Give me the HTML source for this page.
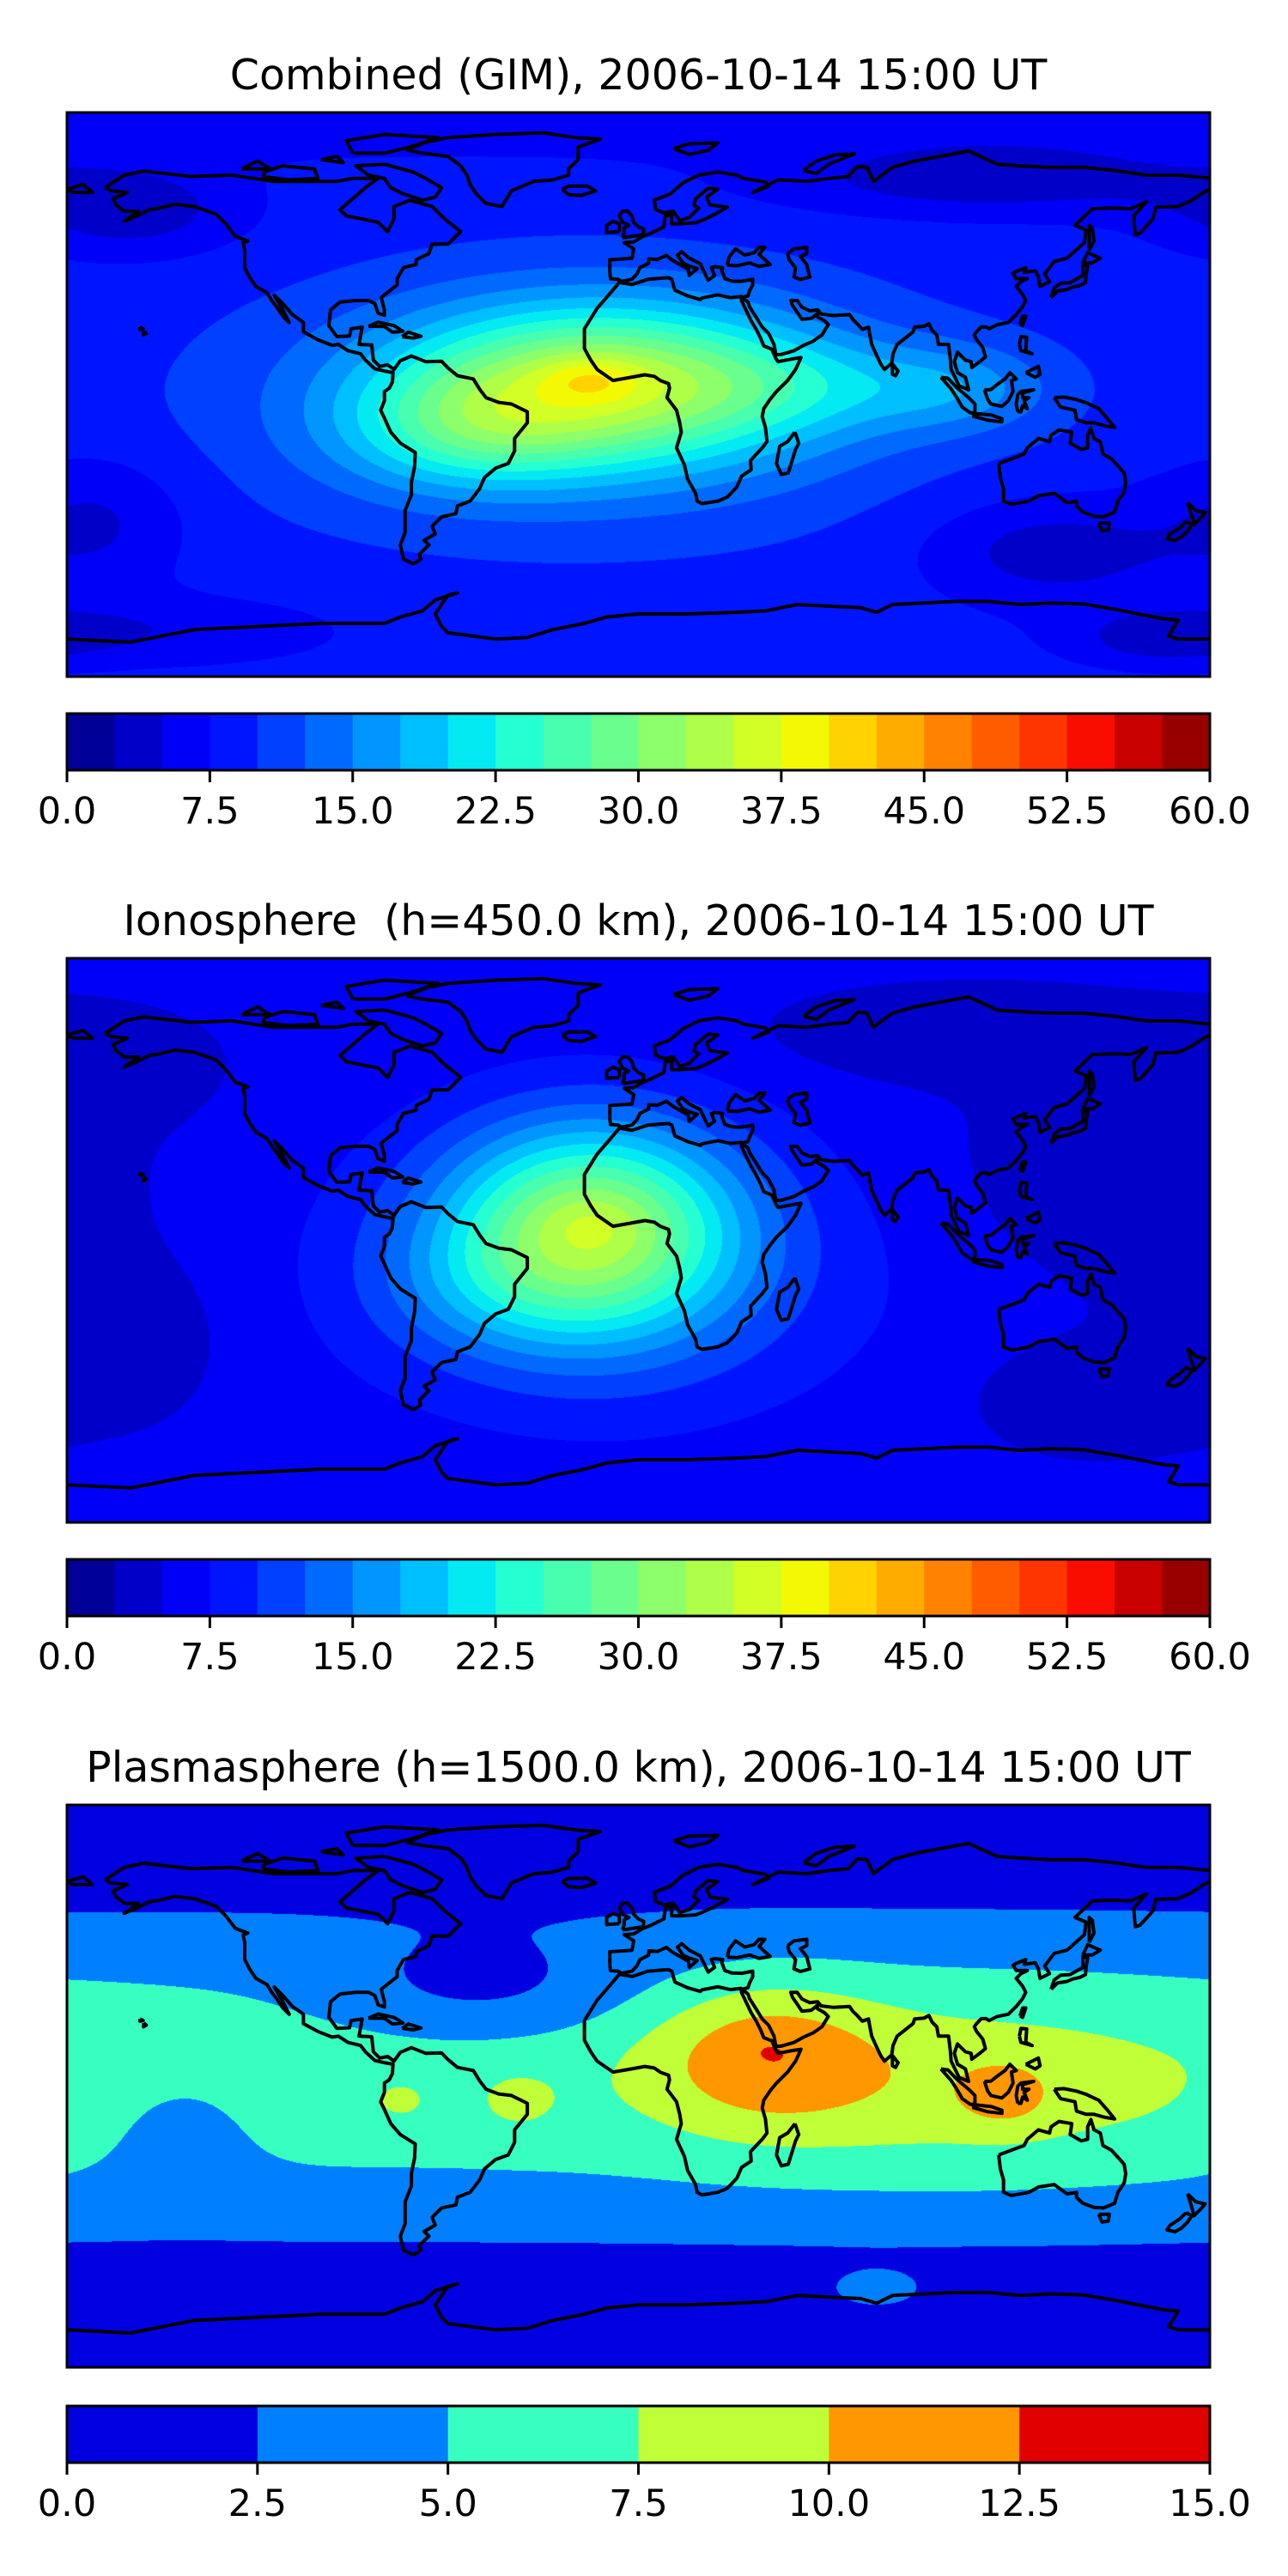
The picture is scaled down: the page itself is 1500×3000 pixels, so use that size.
<!DOCTYPE html>
<html><head><meta charset="utf-8">
<style>
html,body{margin:0;padding:0;background:#fff;}
#root{position:relative;width:1500px;height:3000px;overflow:hidden;font-family:"DejaVu Sans","Liberation Sans",sans-serif;}
canvas{position:absolute;}
svg{position:absolute;left:0;top:0;}
text{white-space:pre;}
</style></head>
<body>
<div id="root">
<canvas id="c0" width="1331" height="657" style="left:78px;top:131px"></canvas>
<canvas id="c1" width="1331" height="657" style="left:78px;top:1116px"></canvas>
<canvas id="c2" width="1331" height="655" style="left:78px;top:2102px"></canvas>
<svg id="svg" width="1500" height="3000" xmlns="http://www.w3.org/2000/svg"></svg>
</div>
<script>
// ---- data ----
const titles = ["Combined (GIM), 2006-10-14 15:00 UT","Ionosphere  (h=450.0 km), 2006-10-14 15:00 UT","Plasmasphere (h=1500.0 km), 2006-10-14 15:00 UT"];
const levelsMax = [60, 60, 15];
const levelStep = [2.5, 2.5, 2.5];
const tickLabels0 = ["0.0","7.5","15.0","22.5","30.0","37.5","45.0","52.5","60.0"];
const tickLabels1 = ["0.0","7.5","15.0","22.5","30.0","37.5","45.0","52.5","60.0"];
const tickLabels2 = ["0.0","2.5","5.0","7.5","10.0","12.5","15.0"];
const fieldBase = [8.5, 5.5, -1.5];
// blobs: [lon, lat, amplitude, sigmaLon, sigmaLat]
const blobsCombined = [[-12,3,22,45,18],[-15,5,4,11,5],[-55,-12,8,28,13],[50,3,4,28,11],[100,2,6,22,10],[-20,-5,5,80,30],
 [-160,58,-5,25,10],[110,68,-5,50,8],[130,-50,-5,28,12],[165,-78,-4,20,6],[-170,-40,-4,20,15],[0,90,-3,1000,10],[-150,-75,-3,40,8]];
const blobsIono = [[-15,3,25,33,24],[-14,5,1.5,10,6],[-50,-15,3,25,15],[150,20,-2.5,35,25],[-170,55,-2,25,12],[100,65,-2.5,40,10],
 [-160,-30,-2,25,20],[140,-50,-2.5,25,12],[-10,-15,4,70,35]];
const blobsPlasma = [[0,3,8,1000,45],[40,10,4.5,25,16],[100,0,2.5,60,22],[40,14,0.5,8,4],[115,-3,3,10,7],[-50,30,-3,35,12],
 [-75,-5,1.5,8,6],[-38,-5,1.8,9,7],[-145,-12,-2,18,14],[75,-66,2.5,12,5]];
const coast = [
 [[-168,66],[-162,70],[-156,71.3],[-141,69.6],[-128,70],[-115,68],[-95,68],[-90,69],[-82,69],[-86,66],[-94,59],[-92,57],[-82,55],[-79,52],[-77,56],[-77,60],[-72,62],[-65,60],[-61,56],[-56,52],[-60,48],[-65,48],[-66,45],[-70,43],[-70,41.5],[-74,40.5],[-76,37],[-76,35],[-81,31],[-80,27],[-80,25.3],[-82,26],[-83,29],[-85,30],[-89,30],[-94,29.5],[-97,27],[-97.5,22],[-95,18.5],[-91,18.7],[-90.5,21],[-87,21.5],[-88,16],[-84,15.8],[-83.5,11],[-81.5,9],[-79,9.5],[-77,8],[-75,10.8],[-71.5,12.3],[-67,10.5],[-62,10.6],[-60,8.5],[-57,6],[-52,5],[-50,1.7],[-48,-1],[-44,-2.5],[-40,-3],[-35,-5.5],[-35,-9],[-39,-14],[-39,-18],[-41,-22],[-45,-23.5],[-48.5,-26.5],[-50,-30],[-53,-34],[-57,-35.5],[-57.5,-38],[-62,-39],[-65,-42],[-64,-44.5],[-67.5,-46.5],[-66,-48],[-69,-51],[-68.5,-52.5],[-70,-53.5],[-71,-54],[-74,-52.5],[-75,-48],[-73.5,-44],[-73.5,-37],[-71.5,-32],[-71.5,-28],[-70.5,-23],[-70.3,-18.5],[-75,-15.5],[-78,-12],[-80,-7.5],[-81.2,-5],[-80,-2],[-80,1],[-78.5,2],[-77.5,4],[-77.3,7],[-80,7.5],[-83,8.2],[-86,11],[-87.5,13],[-91.5,14],[-94.5,16],[-96.5,15.7],[-101,17.5],[-105.5,20],[-105.5,23],[-109,25.5],[-112,29],[-114.7,31.7],[-112,27],[-110,23],[-112,25],[-114,28],[-115.5,30],[-117,32.5],[-120.5,34.5],[-122.5,37.5],[-124,40.5],[-124,46],[-124.5,48.4],[-123,49],[-127,50.5],[-130,54.5],[-133,57.5],[-137,59],[-140,60],[-146,60.7],[-151,59.5],[-154,59],[-158,57],[-162,55.3],[-157.5,58.5],[-162,58.5],[-164.5,60.5],[-165.5,62.5],[-161,64.5],[-166,65],[-168,66]],
 [[-73,78],[-67,80.5],[-60,82],[-45,83],[-30,83.5],[-20,82],[-12,81.5],[-19,79],[-19,75],[-22,72],[-22,70],[-27,68.5],[-33,68],[-40,65],[-43,60],[-48,61],[-51,64],[-53,67],[-54,70],[-56,73],[-60,76],[-68,77],[-73,78]],
 [[-80,73.5],[-89,73],[-85,70],[-80,69],[-78,66],[-74,64],[-68,62],[-64,63],[-62,66],[-67,69],[-71,71],[-80,73.5]],
 [[-118,71],[-112,73],[-102,72],[-101,69],[-110,68.5],[-118,69.5],[-118,71]],
 [[-90,77],[-80,77],[-72,79],[-63,82],[-80,83],[-92,81],[-90,77]],
 [[-125,72],[-120,74.5],[-116,72],[-125,72]],
 [[-100,75],[-95,76],[-93,74],[-100,75]],
 [[-6,35.8],[-10,31],[-13,27.5],[-17,21],[-17,14.7],[-15,11],[-13,8],[-8,4.5],[-4,5.2],[2,6.3],[5,5.8],[7,4.4],[9.5,3.5],[9.8,2],[9,-1],[12,-5],[13,-9],[13.5,-12],[12,-17],[14.5,-22.5],[15.5,-27],[18,-31.5],[18.5,-34],[20,-34.8],[25,-34],[28,-32.7],[31,-29.5],[32.5,-26],[35.5,-24],[35.3,-21],[39,-17],[40.5,-15],[40,-10.5],[39,-7],[39.5,-4.5],[41.5,-1.5],[43.5,1],[47,4.5],[49.5,8],[51.2,11.8],[48,11.3],[44,10.5],[43.3,11.5],[42,14.5],[39.5,15.5],[38.5,18],[37,21],[35.5,23.5],[34,26.7],[32.5,29.9],[32.3,31.3],[29,30.9],[25,31.8],[20,30.8],[19.5,30.3],[15.5,31.5],[11.5,33.3],[10.5,36.8],[9.5,37.3],[3,36.8],[-2,35.1],[-6,35.8]],
 [[49.3,-12],[50.5,-15.5],[49.5,-17.5],[47.2,-25],[45,-25.5],[43.5,-22],[44.5,-16.5],[47,-15],[49.3,-12]],
 [[-9,38.8],[-9,43],[-2,43.5],[-1.5,46.5],[-4.5,48.5],[-1.5,48.7],[1.5,50.5],[4,51.5],[8,53.5],[8.5,57],[10.5,57.5],[10.5,54.5],[13,54.5],[18,54.8],[21,56],[24,57.5],[28,59.8],[22.5,60.5],[21.5,63],[25,65.5],[22,65.8],[18,62.5],[17.5,60.5],[19,59.5],[16,56.5],[13,55.5],[11,58.5],[8,58],[5.5,59],[5,62],[10,64],[14,67.5],[19,70],[25,71],[31,70],[33,69],[40,67.8],[41,66.5],[36,64.5],[44,68.5],[53,68],[60,69],[66,69.5],[69,72.8],[72,72.5],[74,68],[80,72.5],[87,74.5],[95,76],[104,77.7],[113,73.5],[120,73],[129,72.5],[140,72.5],[150,71.5],[160,70],[170,70],[180,69]],
 [[-180,65.5],[-175,67],[-172,64.5],[-178,64.5],[-180,65.5]],
 [[180,65.5],[178,64.5],[174,61.8],[170,60],[163,59.8],[162,56],[158,51.5],[156.5,51],[156,57],[160,61.5],[155,59.3],[150,59.5],[143,59.3],[137.5,54],[141,52.5],[140.5,48.5],[135,43.5],[131,42.5],[129.5,40.5],[128,38.5],[129.5,36],[126.5,34.5],[126,37.5],[125,39.5],[121.5,39],[122,40.5],[119,39.3],[118,38.7],[119,37],[122.5,37],[120.5,36],[119,34.5],[121,32],[122,30],[121,28],[119,25.5],[116.5,23],[113,22.3],[110.5,21],[109.5,21.6],[108,21.6],[106.5,20],[105.8,19],[106.5,17.5],[108.5,15],[109.3,12],[107.5,10.5],[105,8.6],[104.8,10.5],[103,11],[100.5,13.5],[99.5,10.5],[100.5,7],[103,5.5],[104,1.5],[101,2.8],[98.5,8],[98.3,11],[97.7,16],[94.5,16],[94,19],[92.5,20.5],[91.5,22.6],[90,21.8],[87,21.5],[86.5,20],[84,18],[81.5,16],[80.2,13],[79.8,10],[77.5,8],[76.3,9.8],[74.8,13],[73.5,16],[72.8,19.5],[72.5,21.5],[70.5,20.8],[69,22.5],[67.5,24],[66.5,25.5],[61.5,25.2],[57.5,25.7],[56.5,27],[54,26.7],[51.5,27.9],[50,30],[48,30],[48.5,28.5],[50.3,25.8],[51.5,24],[54.5,24.3],[56.3,25.8],[56.4,24.8],[58.6,23.5],[59.8,22.3],[57.8,19],[55,17],[52,15.7],[49,14],[45,12.8],[43.3,12.7],[42.7,16],[41,19.5],[39,21.5],[37.2,24.5],[35,28],[34.5,29.5],[32.6,31],[34.5,31.5],[35,33],[36,35],[36,36.8],[32.5,36.1],[29.5,36.2],[27.2,37],[26.3,39.5],[26.5,40.5],[24,40.8],[23,40.5],[24,38],[22,36.5],[21,38.5],[19.5,41.7],[16,43.5],[13.6,45.6],[12.3,44.5],[14,42],[16,41],[18.5,40.2],[16,38],[15.7,40],[12.5,41.8],[10.5,43],[8.8,44.4],[6,43.1],[3.3,43.3],[3.2,41.9],[0.5,40.5],[-0.5,38.5],[-2,36.8],[-5.3,36.1],[-6.5,36.8],[-8.8,37],[-9,38.8]],
 [[28,41.3],[28.6,43.9],[30.6,46.5],[33.5,44.5],[36.5,45.3],[38,47],[39.8,47],[38,44.7],[41.5,41.5],[38,40.9],[35,42],[31,41.1],[28,41.3]],
 [[47,45],[49,46.5],[53,47],[53,45],[51,44],[53,41.5],[54,37.5],[51,36.7],[49,37.5],[49.5,40.5],[47.5,43],[47,45]],
 [[-5,50],[1.5,51],[1.7,52.7],[0,53.5],[-1.5,55],[-2,57],[-3.5,58.6],[-5,58.5],[-6,57],[-5,55],[-3,54],[-4.5,53.2],[-4.5,51.7],[-5,50]],
 [[-6,52],[-6,54.5],[-8,55.3],[-10,54],[-10,51.7],[-6,52]],
 [[-24,65.5],[-22,66.5],[-16,66.5],[-13.5,65],[-18,63.5],[-22,63.8],[-24,65.5]],
 [[130,31],[131,34],[133,35.5],[136,35.7],[140,38],[140,41.5],[141.5,41],[141,38],[140.8,35.7],[139,34.8],[136.8,34.3],[135,33.5],[132,33],[130,31]],
 [[140,42],[141.5,45.3],[145.5,43.5],[143,42],[140,42]],
 [[142,46],[142,54],[143,53],[143.5,49],[142,46]],
 [[120.2,22.5],[121,25],[122,25],[121,22],[120.2,22.5]],
 [[120,16],[120.5,18.5],[122.3,18.3],[122,14],[124,13],[120.5,14],[120,16]],
 [[122,7],[126,9],[126.5,6.5],[125,5.5],[122,7]],
 [[109,1.5],[110,-1.5],[111,-3],[114.5,-3.8],[116.5,-2],[118,1],[117.5,4.5],[119,5],[117,7],[115.5,5],[113,3.2],[111,1.6],[109,1.5]],
 [[95.3,5.5],[97.5,5.2],[100.3,2.2],[104,-1],[106,-3],[106,-5.8],[104.5,-5.8],[102,-4],[100.3,-1],[98.5,1.8],[95.3,5.5]],
 [[105.2,-6.8],[106,-6],[111,-6.5],[114.5,-7.7],[114.5,-8.7],[110,-8.2],[105.2,-6.8]],
 [[119.5,-5.5],[119,-3],[119.5,0],[120.5,1],[124.5,1.5],[121,0.5],[121,-1],[123,-1],[121.5,-2],[122.5,-4.5],[121,-3.5],[120.5,-5.5],[119.5,-5.5]],
 [[131,-1],[134,-0.8],[138,-1.6],[141,-2.6],[145,-4.5],[148,-8],[150,-10.5],[147,-10],[143.5,-9],[141,-9],[138,-8],[137.5,-5],[133,-4],[132,-2.5],[131,-1]],
 [[113.5,-22],[114,-26.5],[115,-30],[115,-34],[117.5,-35],[123,-34],[126,-32.3],[131,-31.5],[135,-34.5],[138,-34],[138,-35.6],[140,-37.5],[143.5,-38.8],[146.5,-39],[150,-37.5],[151,-34],[153,-31],[153.5,-28],[153,-25],[150.8,-22.5],[149,-20.5],[146.3,-19],[145.5,-15],[143.5,-14],[142.5,-10.7],[141.5,-13],[141.5,-17],[139.5,-17.5],[136,-15.5],[136.5,-12],[132.5,-11.3],[130,-13],[129.5,-15],[126,-14],[122.5,-17],[121.5,-19],[117,-20.7],[113.5,-22]],
 [[145,-41],[148.3,-41],[148,-43.2],[146,-43.5],[145,-41]],
 [[173,-34.5],[175.5,-37],[178.5,-37.7],[177,-39.5],[175,-41.5],[174.5,-39.5],[173,-34.5]],
 [[172.5,-40.5],[174.3,-41.5],[173,-43.5],[171,-45.5],[169,-46.6],[166.5,-46],[167.5,-44.5],[170.5,-42.5],[172.5,-40.5]],
 [[80,9.8],[81.8,7.5],[81,6],[80,6.5],[80,9.8]],
 [[-85,21.8],[-82,23.1],[-77,22],[-74.2,20.2],[-77.5,19.9],[-80,21.7],[-85,21.8]],
 [[-74.4,18.5],[-72.5,19.9],[-68.5,18.6],[-71,18],[-74.4,18.5]],
 [[52,71.5],[56,74.5],[62,76.5],[68,76.8],[60,73.5],[56,70.5],[52,71.5]],
 [[11,78.5],[16,80],[25,80.3],[22,78],[16,76.6],[11,78.5]],
 [[-157,21.5],[-156,21],[-157,20.8],[-157,21.5]],
 [[-155.8,20.2],[-155,19.5],[-155.9,19],[-155.8,20.2]],
 [[-180,-78],[-160,-79],[-150,-77],[-140,-75],[-120,-74],[-100,-73],[-80,-73],[-75,-71],[-68,-69],[-64,-65.5],[-57,-63.3],[-60,-64],[-62,-67],[-64,-70],[-62,-74],[-60,-76],[-45,-78],[-35,-77.5],[-27,-75],[-17,-73],[-10,-71],[0,-70],[15,-70],[30,-69.5],[40,-69],[50,-67],[60,-67.5],[70,-68],[75,-69.5],[80,-67],[90,-66.5],[100,-66],[110,-66],[120,-67],[130,-66.5],[140,-66.8],[150,-68.5],[160,-70.5],[165,-71.5],[170,-72],[167,-77],[170,-78],[180,-78]]
];
// ---- layout ----
const frameTop = [131, 1116, 2102];
const frameH = [657, 657, 655];
const FX = 78, FW = 1331;
function jet(x){
  function seg(pts){for(let i=1;i<pts.length;i++){if(x<=pts[i][0]){const a=pts[i-1],b=pts[i];return a[1]+(b[1]-a[1])*(x-a[0])/(b[0]-a[0]);}}return pts[pts.length-1][1];}
  const r=seg([[0,0],[0.35,0],[0.66,1],[0.89,1],[1,0.5]]);
  const g=seg([[0,0],[0.125,0],[0.375,1],[0.64,1],[0.91,0],[1,0]]);
  const b=seg([[0,0.5],[0.11,1],[0.34,1],[0.65,0],[1,0]]);
  return [Math.round(r*255),Math.round(g*255),Math.round(b*255)];
}
function field(blobs, base, lon, lat){
  let v=base;
  for(const b of blobs){
    let d=Math.abs(lon-b[0]); if(d>180) d=360-d;
    const u=d/b[3], w=(lat-b[1])/b[4];
    v+=b[2]*Math.exp(-0.5*(u*u+w*w));
  }
  return v;
}
const allBlobs=[blobsCombined, blobsIono, blobsPlasma];
for(let p=0;p<3;p++){
  const cv=document.getElementById('c'+p), ctx=cv.getContext('2d');
  const W=cv.width,H=cv.height, img=ctx.createImageData(W,H);
  const n=Math.round(levelsMax[p]/levelStep[p]);
  const cols=[]; for(let i=0;i<n;i++) cols.push(jet((i+0.5)/n));
  for(let y=0;y<H;y++){
    const lat=90-(y+0.5)/H*180;
    for(let x=0;x<W;x++){
      const lon=-180+(x+0.5)/W*360;
      let k=Math.floor(field(allBlobs[p],fieldBase[p],lon,lat)/levelStep[p]);
      if(k<0)k=0; if(k>n-1)k=n-1;
      const c=cols[k], o=(y*W+x)*4;
      img.data[o]=c[0];img.data[o+1]=c[1];img.data[o+2]=c[2];img.data[o+3]=255;
    }
  }
  ctx.putImageData(img,0,0);
}
const NS='http://www.w3.org/2000/svg', svg=document.getElementById('svg');
function mk(tag,attrs){const e=document.createElementNS(NS,tag);for(const k in attrs)e.setAttribute(k,attrs[k]);svg.appendChild(e);return e;}
const tickSets=[tickLabels0,tickLabels1,tickLabels2];
const panelNames=['combined','ionosphere','plasmasphere'];
for(let p=0;p<3;p++){
  const T=frameTop[p], H=frameH[p];
  const sx=lon=>FX+(lon+180)/360*FW, sy=lat=>T+(90-lat)/180*H;
  const defs=mk('defs',{}); const cp=document.createElementNS(NS,'clipPath'); cp.setAttribute('id','clip'+p); defs.appendChild(cp);
  const cr=document.createElementNS(NS,'rect'); cr.setAttribute('x',FX);cr.setAttribute('y',T);cr.setAttribute('width',FW);cr.setAttribute('height',H); cp.appendChild(cr);
  let d='';
  for(const poly of coast){ d+='M'+poly.map(q=>sx(q[0]).toFixed(1)+','+sy(q[1]).toFixed(1)).join('L'); }
  const cl=mk('path',{d:d,fill:'none',stroke:'#000','stroke-width':4,'stroke-linejoin':'round','clip-path':'url(#clip'+p+')'});
  
  
  const fr=mk('rect',{x:FX,y:T,width:FW,height:H,fill:'none',stroke:'#000','stroke-width':3});
  
  
  const tt=mk('text',{x:743.5,y:T-27,'text-anchor':'middle','font-size':49,fill:'#000'});
  
  
  tt.textContent=titles[p];
  // colorbar
  const CT=T+700, CH=66, n=Math.round(levelsMax[p]/levelStep[p]);
  const cx=v=>FX+v/levelsMax[p]*FW;
  for(let i=0;i<n;i++){
    const c=jet((i+0.5)/n);
    const r=mk('rect',{x:cx(i*levelStep[p]),y:CT,width:cx((i+1)*levelStep[p])-cx(i*levelStep[p])+0.6,height:CH,fill:'rgb('+c.join(',')+')'});
    
    
  }
  const cb=mk('rect',{x:FX,y:CT,width:FW,height:CH,fill:'none',stroke:'#000','stroke-width':3});
  
  
  const ticks=tickSets[p];
  for(let i=0;i<ticks.length;i++){
    const v=parseFloat(ticks[i]), x=cx(v);
    const tk=mk('line',{x1:x,x2:x,y1:CT+CH,y2:CT+CH+14,stroke:'#000','stroke-width':3});
    
    
    const lb=mk('text',{x:x,y:CT+CH+62,'text-anchor':'middle','font-size':43,fill:'#000'});
    
    
    lb.textContent=ticks[i];
  }
}
</script>
</body></html>
